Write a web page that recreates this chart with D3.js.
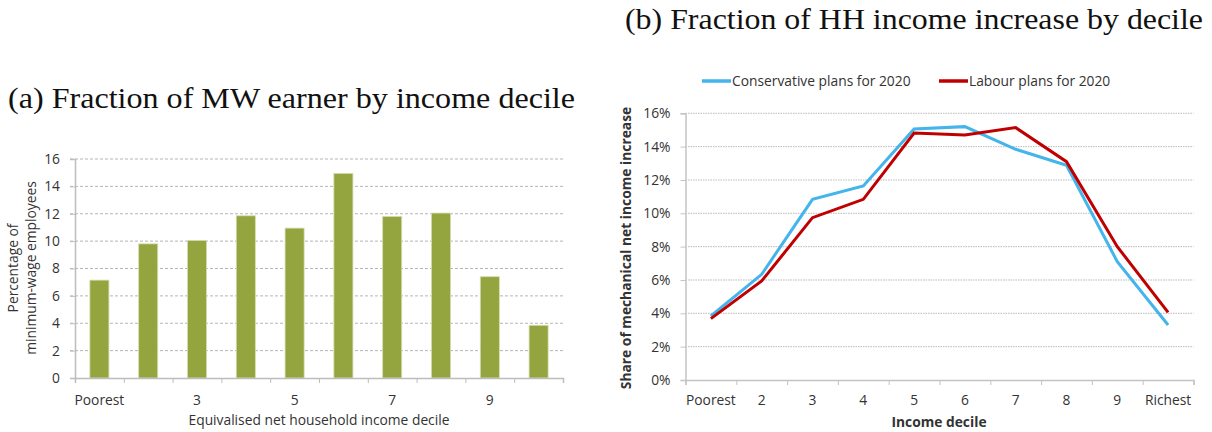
<!DOCTYPE html>
<html><head><meta charset="utf-8">
<script src="https://cdn.jsdelivr.net/npm/d3@7"></script>
<style>body{margin:0;background:#fff}svg{display:block}text{font-family:"Open Sans",sans-serif}</style>
</head><body><svg id="c" width="1212" height="432"></svg>
<script>
const deciles = ["Poorest","2","3","4","5","6","7","8","9","Richest"];
const leftTickLabels = ["Poorest","","3","","5","","7","","9",""];
const mwShare = [7.15,9.8,10.05,11.85,10.95,14.95,11.8,12.05,7.4,3.85];
const leftYTicks = [0,2,4,6,8,10,12,14,16];
const conservative = [3.84,6.34,10.84,11.64,15.06,15.2,13.84,12.88,7.1,3.3];
const labour = [3.68,5.94,9.74,10.84,14.82,14.7,15.14,13.1,8.0,4.06];
const rightYTicks = [0,2,4,6,8,10,12,14,16];
const seriesNames = ["Conservative plans for 2020","Labour plans for 2020"];
const seriesColors = ["#43b4ec","#c00000"];

const FS = 13.8;
const svg = d3.select("#c");

// Titles
svg.append("text").attr("x",8).attr("y",107.5)
  .style("font-family","'Liberation Serif',serif").attr("font-size",30).attr("fill","#111")
  .attr("textLength",567).attr("lengthAdjust","spacingAndGlyphs")
  .text("(a) Fraction of MW earner by income decile");
svg.append("text").attr("x",625).attr("y",29)
  .style("font-family","'Liberation Serif',serif").attr("font-size",30).attr("fill","#111")
  .attr("textLength",578).attr("lengthAdjust","spacingAndGlyphs")
  .text("(b) Fraction of HH income increase by decile");

// ---------- Left chart ----------
const L = {x0:75, x1:563, y0:378, y1:159};
const xL = d3.scaleBand().domain(deciles).range([L.x0,L.x1]).paddingInner(0.61).paddingOuter(0.305);
const xLb = d3.scaleBand().domain(deciles).range([L.x0,L.x1]);
const yL = d3.scaleLinear().domain([0,16]).range([L.y0,L.y1]);
const gl = svg.append("g");
gl.selectAll("line.grid").data(leftYTicks.filter(d=>d>0)).join("line")
  .attr("x1",L.x0-5).attr("x2",L.x1).attr("y1",d=>yL(d)).attr("y2",d=>yL(d))
  .attr("stroke","#b5b5b5").attr("stroke-width",1).attr("stroke-dasharray","3,2");
gl.selectAll("rect").data(mwShare).join("rect")
  .attr("x",(d,i)=>xL(deciles[i])).attr("width",xL.bandwidth())
  .attr("y",d=>yL(d)).attr("height",d=>yL(0)-yL(d))
  .attr("fill","#94a43e").attr("stroke","#d6dcae").attr("stroke-width",0.8);
const yAxL = gl.append("g").attr("transform",`translate(${L.x0},0)`)
  .call(d3.axisLeft(yL).tickValues(leftYTicks).tickSize(5).tickPadding(10));
yAxL.select(".domain").attr("stroke","#bdbdbd").attr("stroke-width",1.5);
yAxL.selectAll(".tick line").attr("stroke","#bdbdbd");
yAxL.selectAll("text").attr("font-size",FS).attr("fill","#333").style("font-family","'Open Sans',sans-serif");
const xAxL = gl.append("g").attr("transform",`translate(0,${L.y0})`)
  .call(d3.axisBottom(d3.scaleLinear().domain([0,10]).range([L.x0,L.x1])).tickValues(d3.range(0,11)).tickSize(5).tickFormat(""));
xAxL.select(".domain").attr("stroke","#bdbdbd").attr("stroke-width",1.5);
xAxL.selectAll(".tick line").attr("stroke","#bdbdbd");
gl.selectAll("text.xl").data(leftTickLabels).join("text").attr("class","xl")
  .attr("x",(d,i)=>xLb(deciles[i])+xLb.bandwidth()/2).attr("y",405)
  .attr("text-anchor","middle").attr("font-size",FS).attr("fill","#333").text(d=>d);
gl.append("text").attr("x",319).attr("y",425).attr("text-anchor","middle")
  .attr("font-size",FS).attr("fill","#333").text("Equivalised net household income decile");
const ytl = gl.append("text").attr("transform","translate(17.5,268) rotate(-90)")
  .attr("text-anchor","middle").attr("font-size",FS).attr("fill","#333");
ytl.append("tspan").attr("x",0).attr("dy",0).text("Percentage of");
ytl.append("tspan").attr("x",0).attr("dy",18.5).text("minimum-wage employees");

// ---------- Right chart ----------
const R = {x0:685.5, x1:1193.5, y0:380, y1:113.3};
const xR = d3.scaleBand().domain(deciles).range([R.x0,R.x1]);
const yR = d3.scaleLinear().domain([0,16]).range([R.y0,R.y1]);
const gr = svg.append("g");
gr.selectAll("line.grid").data(rightYTicks.filter(d=>d>0)).join("line")
  .attr("x1",R.x0).attr("x2",R.x1).attr("y1",d=>yR(d)).attr("y2",d=>yR(d))
  .attr("stroke","#a8a8a8").attr("stroke-width",0.8).attr("stroke-dasharray","1.5,1");
const yAxR = gr.append("g").attr("transform",`translate(${R.x0},0)`)
  .call(d3.axisLeft(yR).tickValues(rightYTicks).tickSize(5).tickPadding(10).tickFormat(d=>d+"%"));
yAxR.select(".domain").attr("stroke","#c4c4c4").attr("stroke-width",1.5);
yAxR.selectAll(".tick line").attr("stroke","#c4c4c4");
yAxR.selectAll("text").attr("font-size",FS).attr("fill","#333").style("font-family","'Open Sans',sans-serif");
const xAxR = gr.append("g").attr("transform",`translate(0,${R.y0})`)
  .call(d3.axisBottom(d3.scaleLinear().domain([0,10]).range([R.x0,R.x1])).tickValues(d3.range(0,11)).tickSize(5).tickFormat(""));
xAxR.select(".domain").attr("stroke","#c4c4c4").attr("stroke-width",1.5);
xAxR.selectAll(".tick line").attr("stroke","#c4c4c4");
gr.selectAll("text.xr").data(deciles).join("text").attr("class","xr")
  .attr("x",d=>xR(d)+xR.bandwidth()/2).attr("y",405)
  .attr("text-anchor","middle").attr("font-size",FS).attr("fill","#333").text(d=>d);
gr.append("text").attr("x",939).attr("y",427).attr("text-anchor","middle")
  .attr("font-size",FS).attr("font-weight","bold").attr("fill","#333").text("Income decile");
gr.append("text").attr("transform","translate(630.5,248) rotate(-90)")
  .attr("text-anchor","middle").attr("font-size",FS).attr("font-weight","bold").attr("fill","#333")
  .text("Share of mechanical net income increase");
const line = d3.line().x((d,i)=>xR(deciles[i])+xR.bandwidth()/2).y(d=>yR(d));
[conservative,labour].forEach((s,k)=>{
  gr.append("path").datum(s).attr("d",line).attr("fill","none")
    .attr("stroke",seriesColors[k]).attr("stroke-width",3).attr("stroke-linejoin","miter");
});
const legX = [702,939];
seriesNames.forEach((n,k)=>{
  gr.append("line").attr("x1",legX[k]).attr("x2",legX[k]+29).attr("y1",81).attr("y2",81)
    .attr("stroke",seriesColors[k]).attr("stroke-width",3.5);
  gr.append("text").attr("x",legX[k]+30).attr("y",86).attr("font-size",FS).attr("fill","#333").text(n);
});
</script></body></html>
